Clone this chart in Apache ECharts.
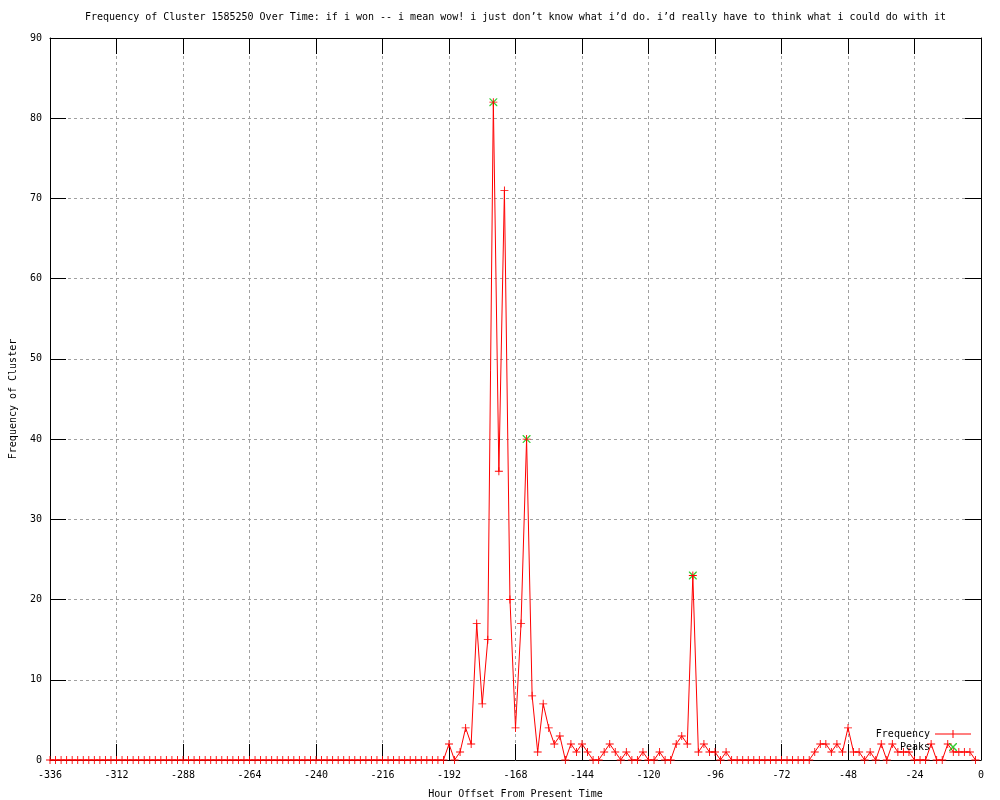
<!DOCTYPE html>
<html>
<head>
<meta charset="utf-8">
<script src="https://cdn.jsdelivr.net/npm/echarts@6/dist/echarts.min.js"></script>
<style>
html,body{margin:0;padding:0;background:#fff;}
#chart{width:1000px;height:800px;}
</style>
</head>
<body>
<div id="chart"></div>
<script>
// ---- data ----
const titleText = "Frequency of Cluster 1585250 Over Time: if i won -- i mean wow! i just don’t know what i’d do. i’d really have to think what i could do with it";
const xAxisName = "Hour Offset From Present Time";
const yAxisName = "Frequency of Cluster";

// sampling of the series: one value every 2 hours starting at -336
const startHour = -336;
const stepHours = 2;

// frequency values, -336 .. -2 (every 2 hours)
const frequency = [
  0,0,0,0,0,0,0,0,0,0,0,0,
  0,0,0,0,0,0,0,0,0,0,0,0,
  0,0,0,0,0,0,0,0,0,0,0,0,
  0,0,0,0,0,0,0,0,0,0,0,0,
  0,0,0,0,0,0,0,0,0,0,0,0,
  0,0,0,0,0,0,0,0,0,0,0,0,
  // -192 ..
  2,0,1,4,2,17,7,15,82,36,
  71,20,4,17,40,8,1,7,4,2,
  3,0,2,1,2,1,0,0,1,2,
  1,0,1,0,0,1,0,0,1,0,
  0,2,3,2,23,1,2,1,1,0,
  1,0,0,0,0,0,0,0,0,0,0,0,0,0,0,0,
  1,2,2,1,2,1,4,1,1,0,
  1,0,2,0,2,1,1,1,0,0,
  0,2,0,0,2,1,1,1,1,0
];

const peakHours = [-176, -164, -104];
const peakValues = [82, 40, 23];

const xTicks = { min: -336, max: 0, interval: 24 };
const yTicks = { min: 0, max: 90, interval: 10 };

// ---- build ----
const freqData = frequency.map((v, i) => [startHour + i * stepHours, v]);
const peakData = peakHours.map((h, i) => [h, peakValues[i]]);

const FONT = "DejaVu Sans Mono";
const plusPath = "path://M0,4H9V5H0Z M4,0H5V9H4Z";
const crossPath = "path://M0,0L1,0L9,8L9,9L8,9L0,1Z M8,0L9,0L9,1L1,9L0,9L0,8Z";
const lineWithPlusIcon = "path://M0,3.5H36V4.5H0Z M17.5,0H18.5V8H17.5Z";
// cross centred in a 36x8 box (zero-area subpaths at the ends fix the box)
const crossIcon = "path://M0,4L0,4Z M36,4L36,4Z M14,0L15,0L22,7L22,8L21,8L14,1Z M21,0L22,0L22,1L15,8L14,8L14,7Z";

const gridLine = { show: true, lineStyle: { color: "#a0a0a0", width: 1, type: [3, 3] } };
const blackLine = { show: true, onZero: false, lineStyle: { color: "#000", width: 1 } };
const tick = { show: true, inside: true, length: 16, lineStyle: { color: "#000", width: 1 } };
const txt = { fontFamily: FONT, fontSize: 10, color: "#000" };

const chart = echarts.init(document.getElementById("chart"), null, { renderer: "canvas" });
chart.setOption({
  animation: false,
  backgroundColor: "#fff",
  title: {
    text: titleText,
    left: 85,
    top: 12,
    padding: 0,
    textStyle: { fontFamily: FONT, fontSize: 10, fontWeight: "normal", color: "#000" }
  },
  grid: { left: 50, right: 19, top: 38, bottom: 40, containLabel: false, outerBoundsMode: "none" },
  legend: [
    {
      data: [{ name: "Frequency", icon: lineWithPlusIcon, itemStyle: { color: "#ff0000" } }],
      right: 29, top: 729, padding: 0,
      align: "right",
      itemWidth: 36, itemHeight: 8,
      textStyle: txt
    },
    {
      data: [{ name: "Peaks", icon: crossIcon, itemStyle: { color: "#00c000" } }],
      right: 29, top: 742, padding: 0,
      align: "right",
      itemWidth: 36, itemHeight: 8,
      textStyle: txt
    }
  ],
  xAxis: [
    {
      type: "value", position: "bottom",
      min: xTicks.min, max: xTicks.max, interval: xTicks.interval,
      axisLine: blackLine, axisTick: tick, splitLine: gridLine,
      axisLabel: Object.assign({ margin: 10 }, txt),
      name: xAxisName, nameLocation: "middle", nameGap: 29,
      nameTextStyle: txt
    },
    {
      type: "value", position: "top",
      min: xTicks.min, max: xTicks.max, interval: xTicks.interval,
      axisLine: blackLine, axisTick: tick, splitLine: { show: false },
      axisLabel: { show: false }
    }
  ],
  yAxis: [
    {
      type: "value", position: "left",
      min: yTicks.min, max: yTicks.max, interval: yTicks.interval,
      axisLine: blackLine, axisTick: tick, splitLine: gridLine,
      axisLabel: Object.assign({ margin: 8 }, txt),
      name: yAxisName, nameLocation: "middle", nameGap: 32, nameRotate: 90,
      nameTextStyle: txt
    },
    {
      type: "value", position: "right",
      min: yTicks.min, max: yTicks.max, interval: yTicks.interval,
      axisLine: blackLine, axisTick: tick, splitLine: { show: false },
      axisLabel: { show: false }
    }
  ],
  series: [
    {
      name: "Frequency", type: "line",
      xAxisIndex: 0, yAxisIndex: 0,
      data: freqData,
      symbol: plusPath, symbolSize: 8, showAllSymbol: true,
      clip: false,
      itemStyle: { color: "#ff0000" },
      lineStyle: { color: "#ff0000", width: 1 },
      emphasis: { disabled: true }
    },
    {
      name: "Peaks", type: "scatter",
      xAxisIndex: 0, yAxisIndex: 0,
      data: peakData,
      symbol: crossPath, symbolSize: 8,
      clip: false,
      itemStyle: { color: "#00c000" },
      emphasis: { disabled: true }
    }
  ]
});
</script>
</body>
</html>
